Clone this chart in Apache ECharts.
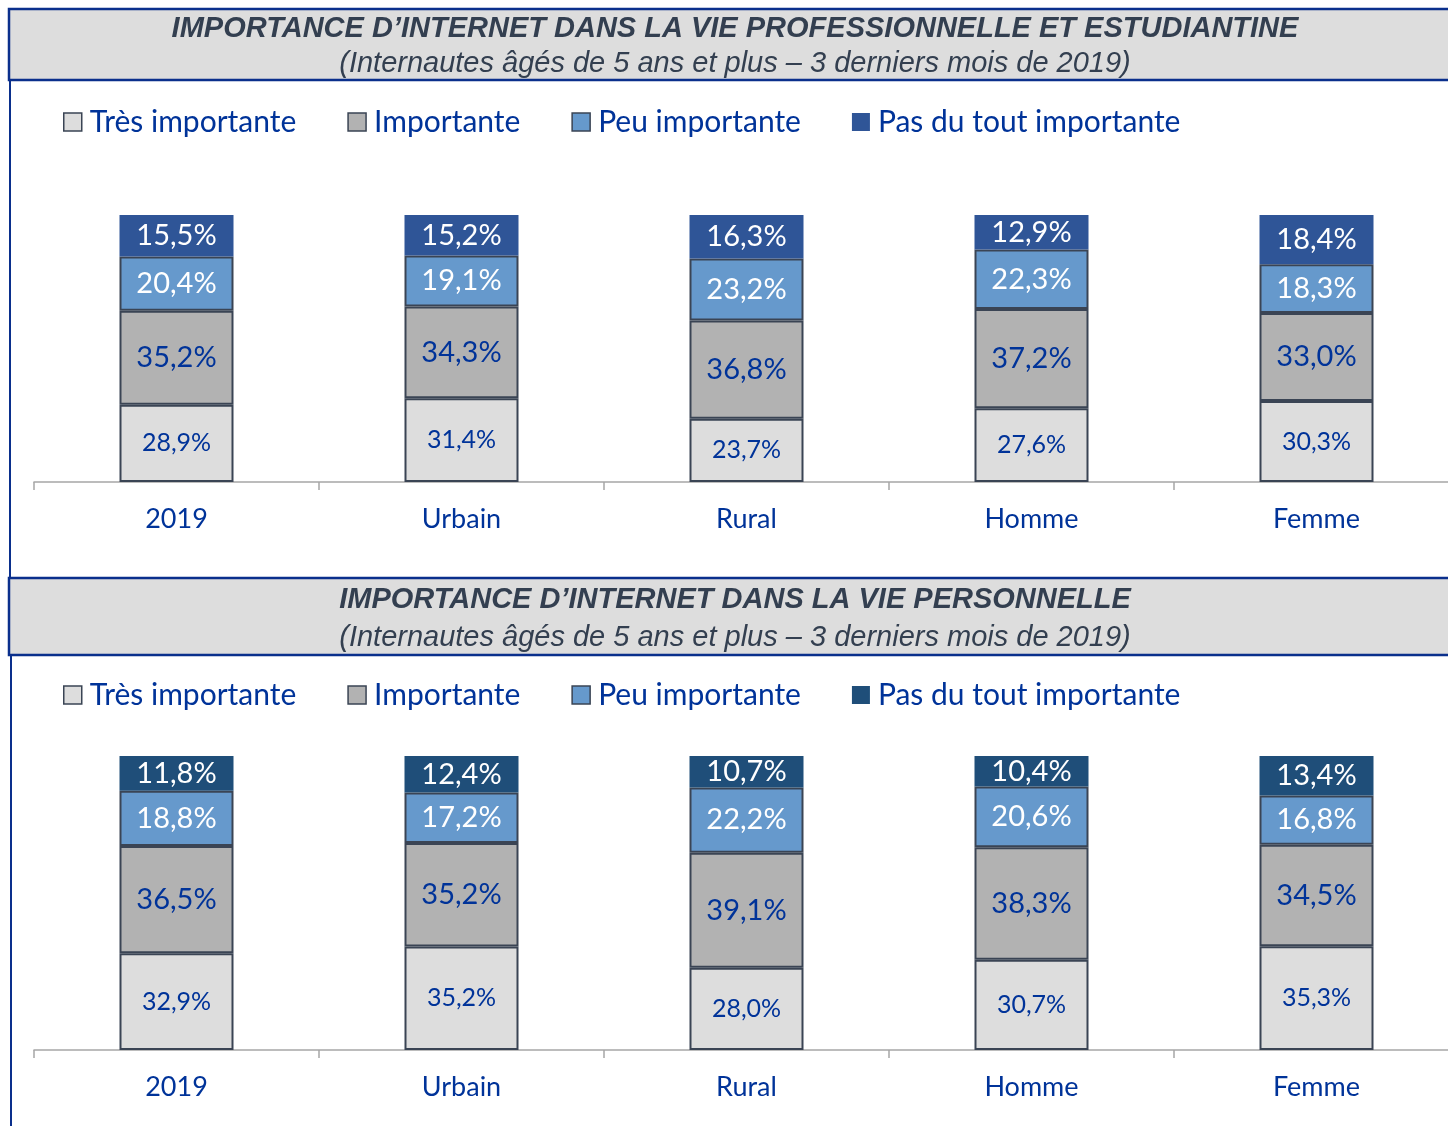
<!DOCTYPE html>
<html>
<head>
<meta charset="utf-8">
<script src="https://cdn.jsdelivr.net/npm/echarts@6/dist/echarts.min.js"></script>
<style>
  html, body { margin: 0; padding: 0; background: #fff; }
  #chart { width: 1448px; height: 1126px; }
</style>
</head>
<body>
<div id="chart"></div>
<script>
// catégories
const categories = ["2019", "Urbain", "Rural", "Homme", "Femme"];
const seriesNames = ["Très importante", "Importante", "Peu importante", "Pas du tout importante"];

// vie professionnelle et estudiantine
const proTres = [28.9, 31.4, 23.7, 27.6, 30.3];
const proImp = [35.2, 34.3, 36.8, 37.2, 33.0];
const proPeu = [20.4, 19.1, 23.2, 22.3, 18.3];
const proPas = [15.5, 15.2, 16.3, 12.9, 18.4];

// vie personnelle
const persTres = [32.9, 35.2, 28.0, 30.7, 35.3];
const persImp = [36.5, 35.2, 39.1, 38.3, 34.5];
const persPeu = [18.8, 17.2, 22.2, 20.6, 16.8];
const persPas = [11.8, 12.4, 10.7, 10.4, 13.4];

const BLUE_TEXT = "#003399";
const BORDER = "#3a4454";
const FONT = "Lato, 'Open Sans', sans-serif";

const fmt = (p) => p.value.toFixed(1).replace(".", ",") + "%";

const chart = echarts.init(document.getElementById("chart"));

// un segment de barre empilée
const makeSeries = (name, data, idx, color, labelColor, fontSize, border) => ({
  name: name,
  type: "bar",
  stack: "s" + idx,
  xAxisIndex: idx,
  yAxisIndex: idx,
  data: data,
  barWidth: 114,
  itemStyle: {
    color: color,
    borderColor: border ? BORDER : color,
    borderWidth: border ? 2 : 0,
  },
  label: {
    show: true,
    position: "inside",
    formatter: fmt,
    color: labelColor,
    fontSize: fontSize,
    fontFamily: FONT,
  },
  emphasis: { disabled: true },
});

const makeLegend = (top, darkColor) => ({
  top: top,
  left: 58,
  icon: "rect",
  itemWidth: 18,
  itemHeight: 18,
  itemGap: 51,
  selectedMode: false,
  textStyle: {
    color: BLUE_TEXT,
    fontSize: 30,
    fontFamily: FONT,
    padding: [0, 0, 0, 3],
  },
  data: [
    { name: seriesNames[0], itemStyle: { color: "#dddddd", borderColor: BORDER, borderWidth: 1.5 } },
    { name: seriesNames[1], itemStyle: { color: "#b2b2b2", borderColor: BORDER, borderWidth: 1.5 } },
    { name: seriesNames[2], itemStyle: { color: "#6699cc", borderColor: BORDER, borderWidth: 1.5 } },
    { name: seriesNames[3], itemStyle: { color: darkColor, borderWidth: 0 } },
  ],
});

const makeXAxis = (idx) => ({
  type: "category",
  gridIndex: idx,
  data: categories,
  axisLine: { lineStyle: { color: "#a6a6a6", width: 1.5 } },
  axisTick: { show: true, length: 8, interval: 0, lineStyle: { color: "#a6a6a6", width: 1.5 } },
  axisLabel: { color: BLUE_TEXT, fontSize: 27, fontFamily: FONT, margin: 24, interval: 0 },
});

const makeYAxis = (idx) => ({
  type: "value",
  gridIndex: idx,
  min: 0,
  max: 100,
  show: false,
});

const headerRect = (y, h) => ({
  type: "rect",
  shape: { x: 9, y: y, width: 1450, height: h },
  style: { fill: "#dddddd", stroke: "#0a2f8c", lineWidth: 2.5 },
  z: -1,
});

const headerText = (text, y, bold) => ({
  type: "text",
  x: 735,
  y: y,
  style: {
    text: text,
    font: (bold ? "italic bold 29px" : "italic 29px") + " 'Liberation Sans', Arial, sans-serif",
    fill: "#333f50",
    align: "center",
    verticalAlign: "middle",
  },
});

const option = {
  animation: false,
  grid: [
    { left: 34, right: -11, top: 215, height: 267, outerBoundsMode: "none", containLabel: false },
    { left: 34, right: -11, top: 756, height: 294, outerBoundsMode: "none", containLabel: false },
  ],
  legend: [makeLegend(102, "#2f5597"), makeLegend(675, "#1f4e79")],
  xAxis: [makeXAxis(0), makeXAxis(1)],
  yAxis: [makeYAxis(0), makeYAxis(1)],
  graphic: [
    headerRect(9, 71),
    headerRect(578, 77),
    { type: "line", shape: { x1: 10, y1: 80, x2: 10, y2: 578 }, style: { stroke: "#0a2f8c", lineWidth: 2 } },
    { type: "line", shape: { x1: 11, y1: 655, x2: 11, y2: 1126 }, style: { stroke: "#0a2f8c", lineWidth: 2 } },
    headerText("IMPORTANCE D\u2019INTERNET DANS LA VIE PROFESSIONNELLE ET ESTUDIANTINE", 29, true),
    headerText("(Internautes âgés de 5 ans et plus \u2013 3 derniers mois de 2019)", 64, false),
    headerText("IMPORTANCE D\u2019INTERNET DANS LA VIE PERSONNELLE", 600, true),
    headerText("(Internautes âgés de 5 ans et plus \u2013 3 derniers mois de 2019)", 638, false),
  ],
  series: [
    makeSeries(seriesNames[0], proTres, 0, "#dddddd", BLUE_TEXT, 25, true),
    makeSeries(seriesNames[1], proImp, 0, "#b2b2b2", BLUE_TEXT, 29, true),
    makeSeries(seriesNames[2], proPeu, 0, "#6699cc", "#ffffff", 29, true),
    makeSeries(seriesNames[3], proPas, 0, "#2f5597", "#ffffff", 29, false),
    makeSeries(seriesNames[0], persTres, 1, "#dddddd", BLUE_TEXT, 25, true),
    makeSeries(seriesNames[1], persImp, 1, "#b2b2b2", BLUE_TEXT, 29, true),
    makeSeries(seriesNames[2], persPeu, 1, "#6699cc", "#ffffff", 29, true),
    makeSeries(seriesNames[3], persPas, 1, "#1f4e79", "#ffffff", 29, false),
  ],
};

chart.setOption(option);
</script>
</body>
</html>
